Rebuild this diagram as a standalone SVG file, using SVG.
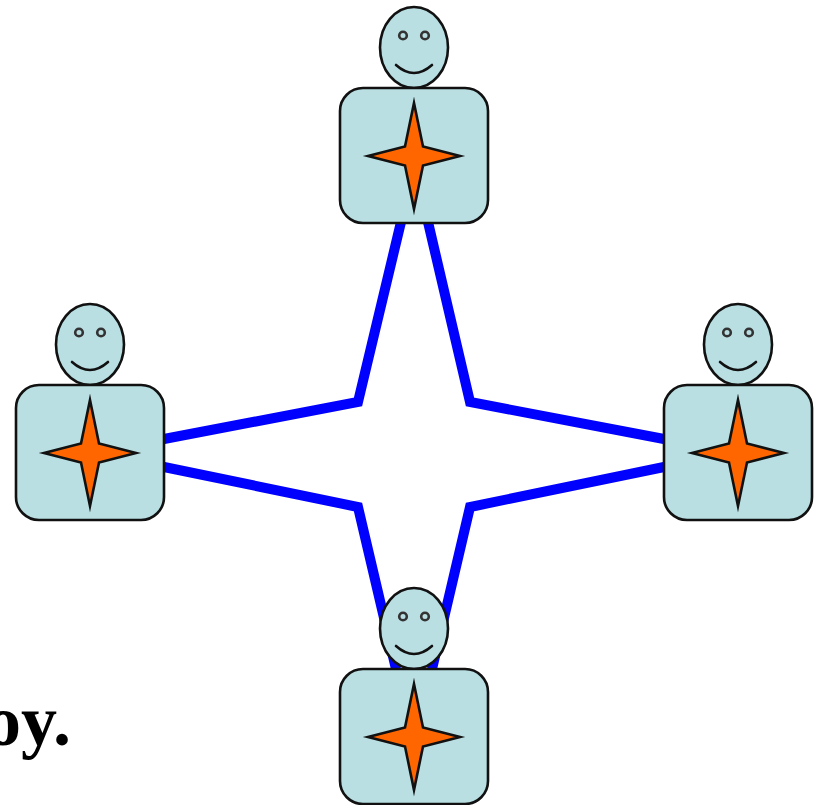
<svg xmlns="http://www.w3.org/2000/svg" width="821" height="805" viewBox="0 0 821 805">
<style>
.part{fill:#b9dfe3;stroke:#111;stroke-width:2.6}
.eye{fill:#b9dfe3;stroke:#333;stroke-width:2.6}
.smile{fill:none;stroke:#111;stroke-width:2.6;stroke-linecap:round}
.star{fill:#ff6600;stroke:#111;stroke-width:2.6;stroke-linejoin:miter;stroke-miterlimit:10}
.link{fill:none;stroke:#0000ff;stroke-width:10;stroke-linejoin:miter}
.cap{font-family:"Liberation Serif",serif;font-weight:bold;font-size:72px;fill:#000}
</style>
<defs>
<g id="person">
<ellipse class="part" cx="414" cy="47.500" rx="34" ry="40.500"/>
<circle class="eye" cx="403" cy="35.500" r="3.800"/>
<circle class="eye" cx="425" cy="35.500" r="3.800"/>
<path class="smile" d="M396 65Q414 81 432 65"/>
<rect class="part" x="340" y="88" width="148" height="135" rx="23" ry="23"/>
<polygon class="star" points="414,103 423,146.500 460,156 423,165.500 414,209 405,165.500 368,156 405,146.500"/>
</g>
</defs>
<text class="cap" x="71" y="745" text-anchor="end">oy.</text>
<g id="connectors">
<path class="link" d="M401 222L358 402L164 439"/>
<path class="link" d="M428 222L470 402L664 439"/>
<path class="link" d="M164 467L358 507L396 669"/>
<path class="link" d="M664 467L470 507L432 669"/>
</g>
<g id="node-top"><use href="#person"/></g>
<g id="node-left"><use href="#person" x="-324" y="297"/></g>
<g id="node-right"><use href="#person" x="324" y="297"/></g>
<g id="node-bottom"><use href="#person" y="581"/></g>
</svg>
